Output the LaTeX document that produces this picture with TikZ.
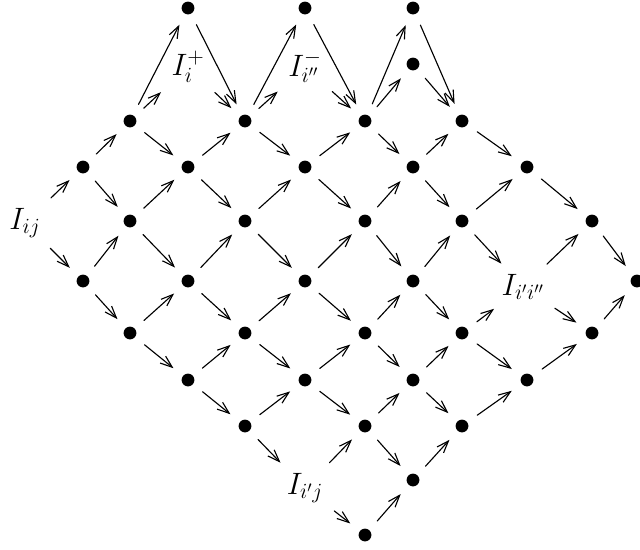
\documentclass[tikz,border=0pt]{standalone}
\usepackage{fix-cm}
\usetikzlibrary{arrows.meta}
\begin{document}
\begin{tikzpicture}[x=0.025cm,y=-0.025cm,>={Straight Barb[length=3mm,width=2.2mm]},line join=round,line cap=round,
		dot/.style={circle,fill=black,inner sep=0pt,minimum size=0.32cm},
		lbl/.style={inner sep=1pt,font=\fontsize{22}{26}\selectfont},
		flow/.style={->,line width=0.8pt,shorten <=0.3cm,shorten >=0.3cm}]
	\useasboundingbox (0,0) rectangle (640,549);
	% lattice points
	\foreach \name/\x/\y in {
		t2/188/8, t4/305/8, t6/413/8, u6/413/64,
		a1/130/121, a3/245/121, a5/365/121, a7/462/121,
		b0/83/167, b2/188/167, b4/305/167, b6/413/167, b8/527/167,
		c1/130/221, c3/245/221, c5/365/221, c7/462/221, c9/592/221,
		d0/83/281, d2/188/281, d4/305/281, d6/413/281, d10/637/281,
		e1/130/333, e3/245/333, e5/365/333, e7/462/333, e9/592/333,
		f2/188/380, f4/305/380, f6/413/380, f8/527/380,
		g3/245/426, g5/365/426, g7/462/426,
		h6/413/480,
		i5/365/535}{
		\node[dot] (\name) at (\x,\y) {};
	}
	% labelled points
	\node[lbl] (ij) at (25,223) {$I_{ij}$};
	\node[lbl] (u2) at (188,67) {$I_i^+$};
	\node[lbl] (u4) at (305,67) {$I_{i''}^-$};
	\node[lbl] (d8) at (523,287) {$I_{i'i''}$};
	\node[lbl] (h4) at (305,488) {$I_{i'j}$};
	% arrows
	\foreach \a/\b in {
		ij/b0, ij/d0,
		b0/a1, b0/c1, d0/c1, d0/e1,
		a1/t2, a1/u2, a1/b2, c1/b2, c1/d2, e1/d2, e1/f2,
		t2/a3, u2/a3, b2/a3, b2/c3, d2/c3, d2/e3, f2/e3, f2/g3,
		a3/t4, a3/u4, a3/b4, c3/b4, c3/d4, e3/d4, e3/f4, g3/f4, g3/h4,
		t4/a5, u4/a5, b4/a5, b4/c5, d4/c5, d4/e5, f4/e5, f4/g5, h4/g5, h4/i5,
		a5/t6, a5/u6, a5/b6, c5/b6, c5/d6, e5/d6, e5/f6, g5/f6, g5/h6, i5/h6,
		t6/a7, u6/a7, b6/a7, b6/c7, d6/c7, d6/e7, f6/e7, f6/g7, h6/g7,
		a7/b8, c7/b8, c7/d8, e7/d8, e7/f8, g7/f8,
		b8/c9, d8/c9, d8/e9, f8/e9,
		c9/d10, e9/d10}{
		\draw[flow] (\a) -- (\b);
	}
\end{tikzpicture}
\end{document}
